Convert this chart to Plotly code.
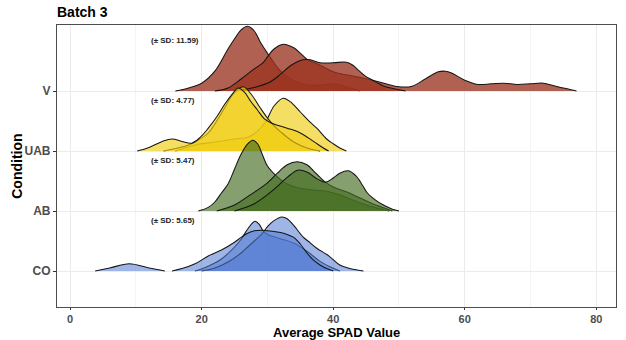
import plotly.graph_objects as go

# ---------------- data ----------------
conditions = ["CO", "AB", "UAB", "V"]          # bottom -> top
sd_labels = ["(± SD: 5.65)", "(± SD: 5.47)", "(± SD: 4.77)", "(± SD: 11.59)"]
x_ticks = [0, 20, 40, 60, 80]

# V (three replicate densities)
V_a_x = [16, 18, 20, 22, 24, 25, 26, 27, 28, 29, 30, 31, 32, 34, 36, 38, 40, 42, 44]
V_a_h = [0, 0.05, 0.13, 0.33, 0.7, 0.87, 1.02, 1.08, 1.0, 0.8, 0.63, 0.47, 0.33, 0.17, 0.1, 0.1, 0.12, 0.07, 0]
V_b_x = [22, 24, 26, 28, 29.3, 30, 31, 32.4, 34, 35, 36, 38, 40, 42, 44, 46, 48, 50, 52, 54, 56, 57, 58,
         60, 62, 64, 66, 68, 70, 72, 74, 76, 77]
V_b_h = [0, 0.05, 0.2, 0.37, 0.47, 0.57, 0.7, 0.78, 0.72, 0.63, 0.53, 0.43, 0.32, 0.27, 0.23, 0.18, 0.12,
         0.07, 0.08, 0.2, 0.32, 0.33, 0.3, 0.18, 0.11, 0.12, 0.13, 0.11, 0.12, 0.13, 0.075, 0.025, 0]
V_c_x = [25, 28, 30.4, 32, 33.5, 35.4, 36.5, 38, 40, 42, 43, 44, 45, 46, 47, 48, 50, 51]
V_c_h = [0, 0.06, 0.15, 0.28, 0.42, 0.52, 0.52, 0.47, 0.47, 0.48, 0.43, 0.33, 0.24, 0.18, 0.12, 0.07, 0.02, 0]

# UAB
U_b_x = [16, 19, 22, 25, 27, 28.5, 29.8, 31, 32.4, 33.5, 35, 36.5, 37.5, 39, 40, 41, 42]
U_b_h = [0, 0.1, 0.15, 0.2, 0.23, 0.33, 0.5, 0.75, 0.88, 0.82, 0.65, 0.48, 0.38, 0.2, 0.12, 0.05, 0]
U_c_x = [14.2, 16, 18, 19.3, 21, 22, 23.5, 24.8, 26.3, 27.5, 28.9, 30, 31, 32, 34, 36, 38]
U_c_h = [0, 0.04, 0.1, 0.17, 0.3, 0.45, 0.72, 0.95, 1.07, 0.95, 0.72, 0.55, 0.42, 0.32, 0.15, 0.05, 0]
U_a_x = [10.2, 12, 14, 15.5, 17, 18.5, 19.8, 21, 22.3, 23.5, 24.8, 25.5, 26.5, 27.5, 28.5, 29.5, 30.5,
         31.5, 33, 35, 37, 38.5, 39.3]
U_a_h = [0, 0.06, 0.16, 0.2, 0.16, 0.13, 0.23, 0.38, 0.57, 0.78, 0.97, 1.05, 0.98, 0.82, 0.68, 0.54, 0.47,
         0.43, 0.38, 0.3, 0.16, 0.05, 0]

# AB
G_a_x = [19.5, 21, 22, 23, 24, 25, 26, 27, 27.8, 28.5, 29.3, 30, 31.5, 33, 35, 37, 39, 41, 43, 45, 47, 48.5]
G_a_h = [0, 0.06, 0.15, 0.3, 0.45, 0.7, 0.95, 1.12, 1.18, 1.12, 0.92, 0.75, 0.57, 0.45, 0.38, 0.35, 0.33,
         0.27, 0.18, 0.1, 0.04, 0]
G_b_x = [22.3, 25, 27, 30, 31.5, 33, 34.5, 36, 37, 38, 38.8, 40, 42, 44, 46, 48, 49]
G_b_h = [0, 0.1, 0.24, 0.47, 0.63, 0.77, 0.82, 0.77, 0.67, 0.56, 0.48, 0.4, 0.32, 0.22, 0.12, 0.04, 0]
G_c_x = [25, 28, 31, 33, 34.6, 36, 37.5, 38.8, 40, 41, 42.3, 43.5, 44.5, 45.2, 46, 47, 48, 49, 50]
G_c_h = [0, 0.12, 0.36, 0.56, 0.68, 0.65, 0.54, 0.48, 0.55, 0.63, 0.67, 0.58, 0.42, 0.3, 0.22, 0.14, 0.08,
         0.03, 0]

# CO
C_b_x = [19, 21, 23, 25, 26, 27, 28.1, 28.8, 29.4, 30.2, 31, 32.5, 33.9, 36, 38, 39.5, 41]
C_b_h = [0, 0.08, 0.2, 0.4, 0.53, 0.7, 0.83, 0.77, 0.66, 0.6, 0.57, 0.52, 0.47, 0.33, 0.16, 0.07, 0]
C_c_x = [20, 22, 24, 26, 27, 28, 29, 29.4, 30, 31, 32.2, 33, 34, 35.4, 36.5, 37.5, 39.1, 40, 41, 42, 43, 44.6]
C_c_h = [0, 0.05, 0.15, 0.3, 0.4, 0.5, 0.6, 0.65, 0.74, 0.84, 0.9, 0.87, 0.76, 0.57, 0.47, 0.38, 0.27,
         0.19, 0.1, 0.06, 0.03, 0]
C_a_x = [3.8, 6, 9, 12, 14.4, 15.5, 17, 19, 21, 23, 25, 26, 27, 28, 29, 30, 31, 32, 33, 34, 35, 36, 37,
         38, 39, 40]
C_a_h = [0, 0.05, 0.12, 0.05, 0, 0, 0.04, 0.12, 0.25, 0.35, 0.48, 0.56, 0.63, 0.67, 0.68, 0.67, 0.66,
         0.64, 0.61, 0.56, 0.45, 0.3, 0.18, 0.1, 0.04, 0]

# ---------------- styling ----------------
fills = {
    "V": "rgba(155,53,32,0.78)",
    "UAB": "rgba(240,205,20,0.66)",
    "AB": "rgba(70,110,35,0.66)",
    "CO": "rgba(80,120,210,0.55)",
}
base = {c: i + 1 for i, c in enumerate(conditions)}

# draw order: top ridge first so lower ridges overlap it
curves = [
    ("V", V_a_x, V_a_h), ("V", V_b_x, V_b_h), ("V", V_c_x, V_c_h),
    ("UAB", U_b_x, U_b_h), ("UAB", U_c_x, U_c_h), ("UAB", U_a_x, U_a_h),
    ("AB", G_a_x, G_a_h), ("AB", G_b_x, G_b_h), ("AB", G_c_x, G_c_h),
    ("CO", C_b_x, C_b_h), ("CO", C_c_x, C_c_h), ("CO", C_a_x, C_a_h),
]


def segments(xs, hs):
    """split a density where it sits on zero for two consecutive points"""
    segs, cur = [], ([], [])
    for i, (x, h) in enumerate(zip(xs, hs)):
        cur[0].append(x)
        cur[1].append(h)
        if h == 0 and i + 1 < len(hs) and hs[i + 1] == 0 and len(cur[0]) > 1:
            segs.append(cur)
            cur = ([], [])
    if len(cur[0]) > 1:
        segs.append(cur)
    return segs


fig = go.Figure()
for cond, xs, hs in curves:
    b = base[cond]
    for sx, sh in segments(xs, hs):
        fig.add_trace(go.Scatter(x=[sx[0], sx[-1]], y=[b, b], mode="lines",
                                 line=dict(width=0, color="rgba(0,0,0,0)"),
                                 hoverinfo="skip", showlegend=False))
        fig.add_trace(go.Scatter(x=sx, y=[b + h for h in sh], mode="lines",
                                 line=dict(color="#151515", width=1.05, shape="spline", smoothing=1.0),
                                 fill="tonexty", fillcolor=fills[cond],
                                 hoverinfo="skip", showlegend=False))

for cond, lab in zip(conditions, sd_labels):
    fig.add_annotation(x=12.0, y=base[cond] + 0.84, text="<b>" + lab + "</b>", showarrow=False,
                       xanchor="left", yanchor="middle",
                       font=dict(size=8, color="#222222", family="Liberation Sans"))

font_fam = "Liberation Sans"
fig.add_annotation(text="<b>Average SPAD Value</b>", xref="paper", yref="paper", x=0.5, y=-0.09,
                   xanchor="center", yanchor="middle", showarrow=False,
                   font=dict(size=13, color="black", family=font_fam))
fig.add_annotation(text="<b>Condition</b>", xref="paper", yref="paper", x=-0.072, y=0.5,
                   xanchor="center", yanchor="middle", textangle=-90, showarrow=False,
                   font=dict(size=14, color="black", family=font_fam))

fig.update_layout(
    width=626, height=340,
    margin=dict(l=57, r=10, t=25, b=33),
    paper_bgcolor="white", plot_bgcolor="white",
    font=dict(family=font_fam),
    title=dict(text="<b>Batch 3</b>", x=0.0, xref="paper", xanchor="left",
               y=1 - 12 / 340, yref="container", yanchor="middle",
               font=dict(size=14, color="black", family=font_fam)),
    xaxis=dict(range=[-2.0, 83.0], tickvals=x_ticks, ticktext=[str(t) for t in x_ticks],
               showgrid=True, gridcolor="#ebebeb", gridwidth=1,
               minor=dict(tickvals=[10, 30, 50, 70], showgrid=True, gridcolor="#f4f4f4", gridwidth=0.6,
                          ticks=""),
               showline=True, linecolor="#4d4d4d", linewidth=1.2, mirror=True,
               ticks="outside", ticklen=2, tickcolor="#333333",
               tickfont=dict(size=11, color="#4d4d4d", weight="bold"), zeroline=False),
    yaxis=dict(range=[0.4, 5.1], tickvals=[base[c] for c in conditions], ticktext=conditions,
               showgrid=True, gridcolor="#ebebeb", gridwidth=1,
               showline=True, linecolor="#4d4d4d", linewidth=1.2, mirror=True,
               ticks="outside", ticklen=3, tickcolor="#333333",
               tickfont=dict(size=12, color="#4d4d4d", weight="bold"), zeroline=False),
)

fig.write_html("out.html")
